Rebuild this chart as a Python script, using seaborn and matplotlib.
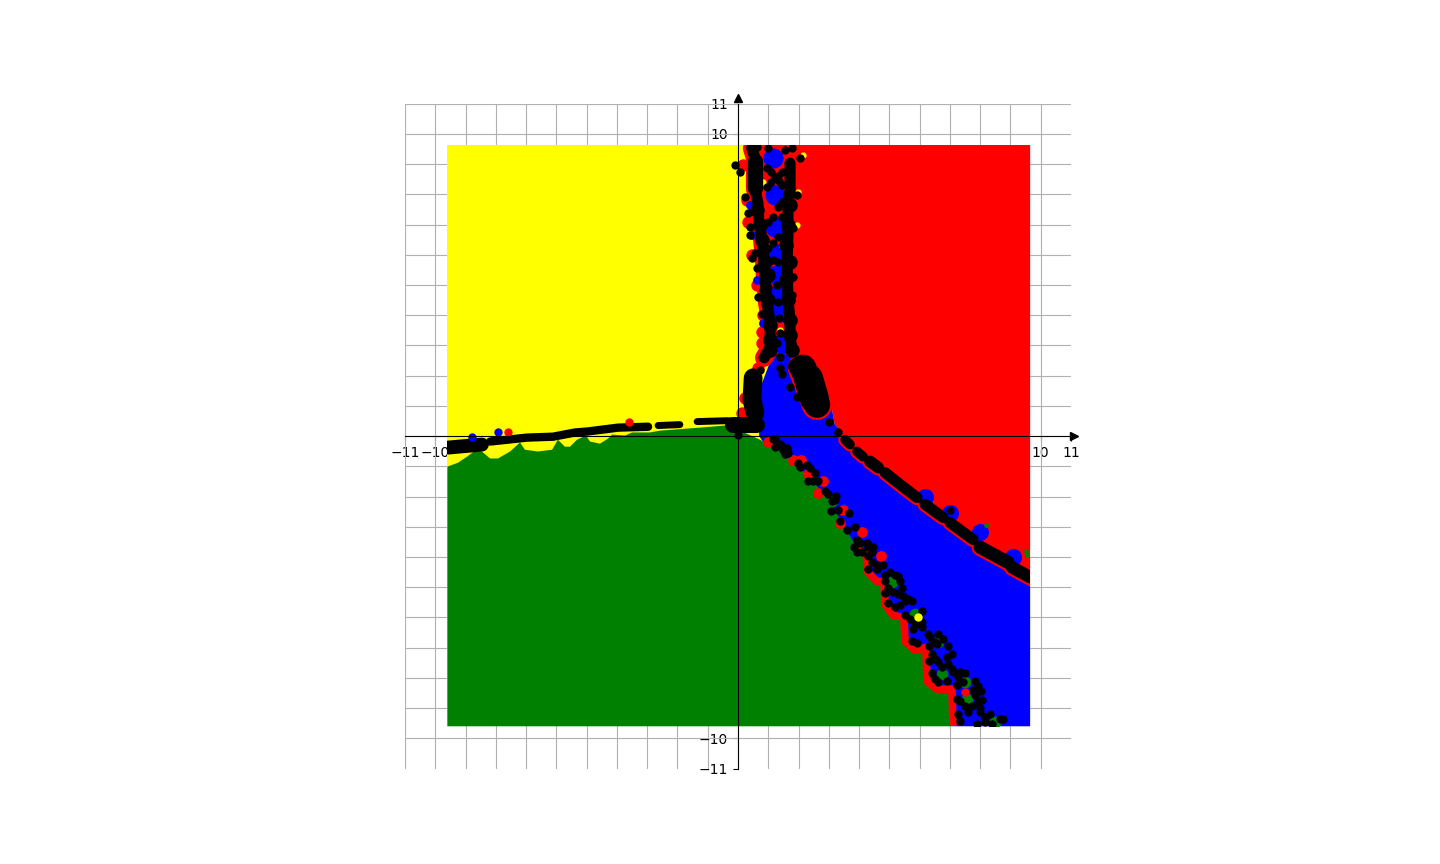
import matplotlib
matplotlib.use("Agg")
import matplotlib.pyplot as plt
from matplotlib.patches import Rectangle
import seaborn as sns

# --- Region outlines ---
x_min, x_max = -9.6, 9.65
y_min, y_max = -9.6, 9.63

# yellow/green border from the left edge to just past the origin
green_top_x = [-9.6, -9.25, -8.95, -8.59, -8.46, -8.19, -7.93, -7.53, -7.2, -7.04, -6.61, -6.14, -5.95, -5.72,
               -5.55, -5.32, -5.02, -4.89, -4.56, -4.29, -4.16, -3.73, -3.5, -2.91, -2.58, -1.26, -0.43, 0.0]
green_top_y = [-1.01, -0.88, -0.68, -0.41, -0.51, -0.74, -0.74, -0.51, -0.21, -0.45, -0.51, -0.45, -0.12, -0.35,
               -0.35, -0.12, 0.02, -0.18, -0.25, -0.08, 0.05, 0.02, 0.12, 0.12, 0.18, 0.28, 0.35, 0.21]
# green/blue border, scalloped, going down to the bottom edge
green_edge_x = [0.0, 0.73, 1.39, 2.05, 2.54, 3.04, 3.53, 3.96, 4.23, 4.29, 4.59, 4.82, 4.86, 5.12, 5.48, 5.52,
                5.85, 6.21, 6.24, 6.57, 7.07, 7.1]
green_edge_y = [0.21, -0.12, -0.51, -1.04, -1.57, -2.2, -3.02, -3.75, -3.91, -4.51, -4.81, -4.81, -5.57, -5.93,
                -6.0, -6.79, -7.09, -6.99, -8.11, -8.37, -8.37, -9.6]
# red/blue border from the right edge back up to the wedge
red_low_x = [9.65, 8.66, 7.33, 6.01, 4.69, 3.7, 3.2, 3.04, 2.05, 1.72]
red_low_y = [-4.97, -4.08, -3.09, -2.1, -0.94, -0.12, 0.38, 1.21, 2.69, 3.19]
# left side of the red part inside the stem
red_left_x = [1.12, 1.06, 0.89, 0.66, 0.56]
red_left_y = [2.5, 2.88, 4.51, 7.15, 9.63]
# blue wedge, left side
blue_left_x = [1.06, 0.7, 0.7]
blue_left_y = [2.46, 1.5, 0.0]

# --- Black chains ---
horiz_a_x = [-9.58, -8.46]
horiz_a_y = [-0.38, -0.28]
horiz_b_x = [-8.19, -6.97, -6.11, -5.38, -4.99, -3.96, -2.97]
horiz_b_y = [-0.18, -0.05, -0.02, 0.12, 0.15, 0.28, 0.31]
horiz_c_x = [-2.64, -1.92]
horiz_c_y = [0.35, 0.38]
horiz_d_x = [-1.35, -0.36, -0.03]
horiz_d_y = [0.48, 0.51, 0.48]
base_x = [-0.17, 0.63]
base_y = [0.38, 0.38]
foot_x = [0.5, 0.46, 0.56]
foot_y = [1.93, 1.21, 0.78]
big_x = [2.15, 2.41, 2.61]
big_y = [2.26, 1.6, 1.04]
big_mid_x = [2.33, 2.52]
big_mid_y = [1.9, 1.25]
big_top_x = [1.95, 2.2]
big_top_y = [2.3, 1.9]

stem_left_x = [0.46, 0.56, 0.56, 0.66, 0.69, 0.79, 0.86, 0.89, 0.96, 1.06, 1.06, 0.86]
stem_left_y = [9.52, 9.19, 8.19, 7.71, 7.05, 6.55, 5.82, 5.22, 4.41, 3.78, 2.92, 2.59]
stem_fat_x = [0.56, 0.56]
stem_fat_y = [9.1, 8.2]
stem_right_x = [1.72, 1.72, 1.65, 1.65, 1.62, 1.65, 1.72, 1.72, 1.78]
stem_right_y = [9.03, 8.14, 7.81, 6.66, 5.76, 4.51, 3.85, 3.29, 2.92]

band_a_x = [3.54, 3.7]
band_a_y = [-0.12, -0.28]
band_b_x = [3.93, 4.13]
band_b_y = [-0.51, -0.68]
band_c_x = [4.36, 4.63]
band_c_y = [-0.84, -1.04]
band_d_x = [4.86, 5.35, 5.91]
band_d_y = [-1.21, -1.6, -2.03]
band_e_x = [6.18, 6.77]
band_e_y = [-2.26, -2.69]
band_f_x = [7.0, 7.76]
band_f_y = [-2.86, -3.42]
band_g_x = [8.0, 8.92]
band_g_y = [-3.68, -4.18]
band_h_x = [9.05, 9.65]
band_h_y = [-4.34, -4.67]

# --- Single points ---
black_x = [0.96, 1.09, 1.22, 1.35, 1.45, 1.45, 1.32, 1.09, 0.96, -0.10, 0.07, 0.99, 1.78, 2.05, 1.95, 0.23, 0.33,
           0.40, 0.40, 0.56, 0.46, 0.63, 1.32, 1.45, 1.45, 1.16, 0.99, 1.32, 1.55, 1.16, 0.99, 1.16, 1.32, 1.82,
           1.82, 0.99, 1.29, 0.83, 0.66, 0.89, 1.32, 1.78, 0.79, 1.35, 1.39, 1.29, 0.89, 0.73, 1.39, 1.39, 1.45,
           1.72, 1.95, 3.01, 3.30, 3.54, 1.16, 1.39, 1.62, 0.0, 0.40, 0.63, 1.55, 7.0]
black_y = [8.87, 8.74, 8.57, 8.44, 8.31, 8.74, 8.60, 8.41, 8.24, 8.97, 8.74, 9.53, 9.53, 9.20, 7.98, 7.91, 7.38,
           6.92, 6.66, 6.06, 5.90, 5.57, 7.58, 7.75, 7.25, 7.25, 7.09, 6.59, 6.62, 6.39, 6.23, 5.83, 5.77, 6.89,
           5.27, 4.94, 5.0, 4.84, 4.61, 4.41, 4.44, 4.68, 4.05, 3.92, 3.42, 3.09, 2.63, 2.19, 2.63, 2.26, 2.06,
           1.64, 1.31, 0.48, 0.12, -0.12, -0.08, -0.25, -0.38, 0.02, 9.56, 9.56, 9.47, -2.46]
low_x = [1.22, 1.22, 1.42, 1.49, 1.65, 1.55, 1.98, 2.05, 2.28, 2.38, 2.54, 2.31, 2.48, 2.64, 2.87, 2.97, 3.24,
         3.11, 3.2, 3.3, 3.07, 3.67, 3.37, 3.87, 3.6, 3.93, 4.03, 4.26, 3.83, 3.93, 4.1, 4.3, 4.46, 4.3, 4.43,
         4.43, 4.59, 4.79, 4.59, 4.3, 4.86, 5.02, 5.19, 5.29, 5.35, 5.42, 4.86, 4.96, 5.12, 5.29, 5.45, 5.62,
         5.75, 4.86, 4.96, 5.19, 5.35, 5.52, 6.08, 5.52, 5.68, 5.85, 6.08, 6.08, 5.78, 6.28, 6.34, 6.61, 6.77,
         6.51, 6.31, 6.57, 5.75, 5.91, 6.94, 6.41, 6.31, 6.51, 6.61, 6.91, 7.07, 6.74, 6.94, 7.07, 6.41, 6.51,
         6.61, 6.91, 7.1, 7.33, 7.5, 7.27, 7.43, 7.83, 7.93, 8.03, 7.83, 7.24, 7.76, 7.24, 7.33, 7.5, 7.73,
         7.93, 8.06, 8.0, 8.0, 7.6, 7.27, 7.33, 7.9, 8.16, 8.33, 8.16, 8.39, 8.66, 8.76]
low_y = [-0.08, -0.35, -0.28, -0.45, -0.55, -0.58, -0.88, -1.01, -0.94, -1.07, -1.21, -1.5, -1.5, -1.5, -1.8,
         -1.93, -1.97, -2.16, -2.13, -2.43, -2.49, -2.56, -2.82, -3.02, -3.12, -3.45, -3.52, -3.52, -3.68, -3.85,
         -3.82, -3.98, -3.68, -3.68, -3.85, -4.18, -4.25, -4.25, -4.41, -4.41, -4.58, -4.48, -4.58, -4.64, -4.81,
         -5.04, -4.81, -5.04, -5.17, -5.24, -5.3, -5.4, -5.47, -5.2, -5.53, -5.67, -5.6, -5.47, -5.8, -5.93,
         -6.06, -6.23, -6.16, -6.33, -6.39, -6.56, -6.66, -6.56, -6.72, -6.82, -6.95, -6.89, -6.79, -6.86, -6.95,
         -7.22, -7.45, -7.38, -7.48, -7.32, -7.22, -7.65, -7.55, -7.71, -7.85, -8.05, -8.14, -8.11, -7.81, -7.81,
         -7.85, -7.98, -8.14, -8.11, -8.28, -8.44, -8.57, -8.24, -8.41, -8.71, -8.77, -8.94, -8.94, -8.81, -8.74,
         -9.0, -9.14, -9.14, -9.2, -9.43, -9.53, -9.3, -9.2, -9.47, -9.53, -9.37, -9.37]
lump_x = [0.63, 0.73, 0.79, 0.89, 0.99, 0.99, 1.06, 1.06, 1.06, 1.72, 1.65, 1.59, 1.72, 1.59, 1.65, 1.72, 1.72, 1.78]
lump_y = [7.48, 6.99, 6.49, 5.77, 5.34, 4.51, 3.68, 3.19, 2.86, 7.65, 6.99, 6.33, 5.77, 5.17, 4.51, 3.85, 3.35, 2.86]
red_edge_x = [0.99, 1.82, 2.08, 2.31, 2.81, 2.64, 3.47, 3.37, 4.1, 4.72]
red_edge_y = [-0.18, -0.78, -0.78, -1.27, -1.5, -1.87, -2.43, -2.86, -3.16, -3.98]
red_stem_x = [0.17, 0.3, 0.33, 0.46, 0.63, 0.83, 0.79, 0.79, 0.66, 0.56, 0.23, 0.13]
red_stem_y = [8.97, 7.81, 7.09, 6.0, 5.0, 4.01, 3.45, 3.09, 2.26, 1.64, 1.27, 0.78]
blue_stem_x = [1.16, 1.22, 1.22, 1.29, 1.29, 1.32, 1.39, 1.45]
blue_stem_y = [9.2, 7.98, 6.92, 6.03, 5.34, 4.68, 4.11, 3.09]
blue_side_x = [0.4, 0.46, 0.63, 0.83, 0.59]
blue_side_y = [7.65, 6.66, 5.17, 3.75, 1.7]
blue_band_x = [6.18, 7.0, 8.0, 9.09]
blue_band_y = [-2.0, -2.53, -3.18, -4.01]
green_x = [5.09, 5.85, 6.61, 6.74, 7.5, 7.57, 8.49, 3.11]
green_y = [-4.84, -5.9, -6.82, -7.88, -8.14, -8.71, -9.47, -2.16]
tiny_green_x = [9.55, 9.5, 8.2]
tiny_green_y = [-3.95, -3.8, -2.95]
tiny_yellow_x = [2.14, 1.98, 1.95, 0.83, 0.96, 1.45, 1.39]
tiny_yellow_y = [9.3, 8.06, 7.0, 8.41, 6.33, 6.29, 3.52]
dot_yellow_x = [5.95]
dot_yellow_y = [-6.0]
stray_blue_x = [-7.93, -8.79]
stray_blue_y = [0.12, -0.02]
stray_red_x = [-7.6, -3.6, 7.5]
stray_red_y = [0.15, 0.45, -8.47]

# --- Ticks ---
tick_values = [-11, -10, 10, 11]
grid_x = list(range(-11, 11))
grid_y = list(range(-10, 12))


def draw_path(ax, xs, ys, width, color, order):
    sns.lineplot(x=xs, y=ys, sort=False, estimator=None, errorbar=None, color=color, linewidth=width,
                 solid_capstyle="round", solid_joinstyle="round", zorder=order, legend=False, ax=ax)


def draw_dots(ax, xs, ys, color, size, order):
    sns.scatterplot(x=xs, y=ys, color=color, s=size, linewidth=0, zorder=order, legend=False, ax=ax)


fig = plt.figure(figsize=(14.4, 8.64), dpi=100)
ax = fig.add_axes([405 / 1440, (864 - 768.6) / 864, 666 / 1440, 665 / 864])

# --- Filled regions ---
ax.fill([x_min, x_max, x_max, x_min], [y_min, y_min, y_max, y_max], color="yellow", lw=0, zorder=2)
ax.fill(red_left_x + [x_max] + red_low_x, red_left_y + [y_max] + red_low_y, color="red", lw=0, zorder=3)
ax.fill(blue_left_x + [7.1, x_max] + red_low_x, blue_left_y + [y_min, y_min] + red_low_y, color="blue", lw=0, zorder=4)
ax.fill(green_top_x + green_edge_x[1:] + [x_min], green_top_y + green_edge_y[1:] + [y_min], color="green", lw=0,
        zorder=5)

# --- Red fringes, then blue patches, then the black chains ---
draw_path(ax, green_edge_x[7:], green_edge_y[7:], 5.5, "red", 6)
draw_dots(ax, red_edge_x, red_edge_y, "red", 60, 6)
draw_dots(ax, red_stem_x, red_stem_y, "red", 80, 7)

stems = [(stem_left_x, stem_left_y, 8), (stem_right_x, stem_right_y, 8)]
bands = [(band_a_x, band_a_y, 7), (band_b_x, band_b_y, 7), (band_c_x, band_c_y, 8.5), (band_d_x, band_d_y, 8),
         (band_e_x, band_e_y, 8), (band_f_x, band_f_y, 8), (band_g_x, band_g_y, 9.5), (band_h_x, band_h_y, 9)]
for xs, ys, width in stems:
    draw_path(ax, xs, ys, width + 5, "red", 7)
for xs, ys, width in bands:
    draw_path(ax, xs, ys, width + 3, "red", 7)
draw_path(ax, big_x, big_y, 22, "red", 7)

draw_dots(ax, blue_stem_x, blue_stem_y, "blue", 210, 8)
draw_dots(ax, blue_side_x, blue_side_y, "blue", 40, 8)
draw_dots(ax, blue_band_x, blue_band_y, "blue", 150, 8)
draw_dots(ax, green_x, green_y, "green", 70, 8)
draw_dots(ax, tiny_green_x, tiny_green_y, "green", 12, 8)
draw_dots(ax, tiny_yellow_x, tiny_yellow_y, "yellow", 20, 8)

for xs, ys, width in stems + bands:
    draw_path(ax, xs, ys, width, "black", 9)
draw_path(ax, horiz_a_x, horiz_a_y, 10, "black", 9)
draw_path(ax, horiz_b_x, horiz_b_y, 6, "black", 9)
draw_path(ax, horiz_c_x, horiz_c_y, 5, "black", 9)
draw_path(ax, horiz_d_x, horiz_d_y, 5, "black", 9)
draw_path(ax, base_x, base_y, 11.5, "black", 9)
draw_path(ax, foot_x, foot_y, 13.5, "black", 9)
draw_path(ax, big_x, big_y, 19, "black", 9)
draw_path(ax, big_mid_x, big_mid_y, 21, "black", 9)
draw_path(ax, big_top_x, big_top_y, 13, "black", 9)
draw_path(ax, stem_fat_x, stem_fat_y, 11, "black", 9)
draw_dots(ax, lump_x, lump_y, "black", 110, 10)
draw_dots(ax, black_x, black_y, "black", 36, 10)
draw_dots(ax, low_x, low_y, "black", 36, 10)
draw_dots(ax, dot_yellow_x, dot_yellow_y, "yellow", 36, 11)
draw_dots(ax, stray_blue_x, stray_blue_y, "blue", 36, 11)
draw_dots(ax, stray_red_x, stray_red_y, "red", 36, 11)

# keep the marks inside the square the points cover
square = Rectangle((x_min, y_min), x_max - x_min, y_max - y_min, transform=ax.transData)
for artist in list(ax.lines) + list(ax.collections):
    artist.set_clip_path(square)

# --- Axes through the origin ---
ax.set_xlim(-11, 11)
ax.set_ylim(-11, 11)
ax.spines["top"].set_visible(False)
ax.spines["right"].set_visible(False)
ax.spines["left"].set_position("zero")
ax.spines["bottom"].set_position("zero")
ax.spines["left"].set_zorder(12)
ax.spines["bottom"].set_zorder(12)
ax.xaxis.remove_overlapping_locs = False
ax.yaxis.remove_overlapping_locs = False
ax.set_xticks(tick_values)
ax.set_yticks(tick_values)
ax.set_xticks(grid_x, minor=True)
ax.set_yticks(grid_y, minor=True)
ax.tick_params(which="minor", length=0)
ax.grid(True, which="minor", color="#b0b0b0", linewidth=0.8)
ax.set_axisbelow(True)
ax.plot(1.004, 0, ">k", markersize=6, transform=ax.get_yaxis_transform(), clip_on=False, zorder=13)
ax.plot(0, 1.009, "^k", markersize=6, transform=ax.get_xaxis_transform(), clip_on=False, zorder=13)

fig.savefig("out.png", dpi=100)
